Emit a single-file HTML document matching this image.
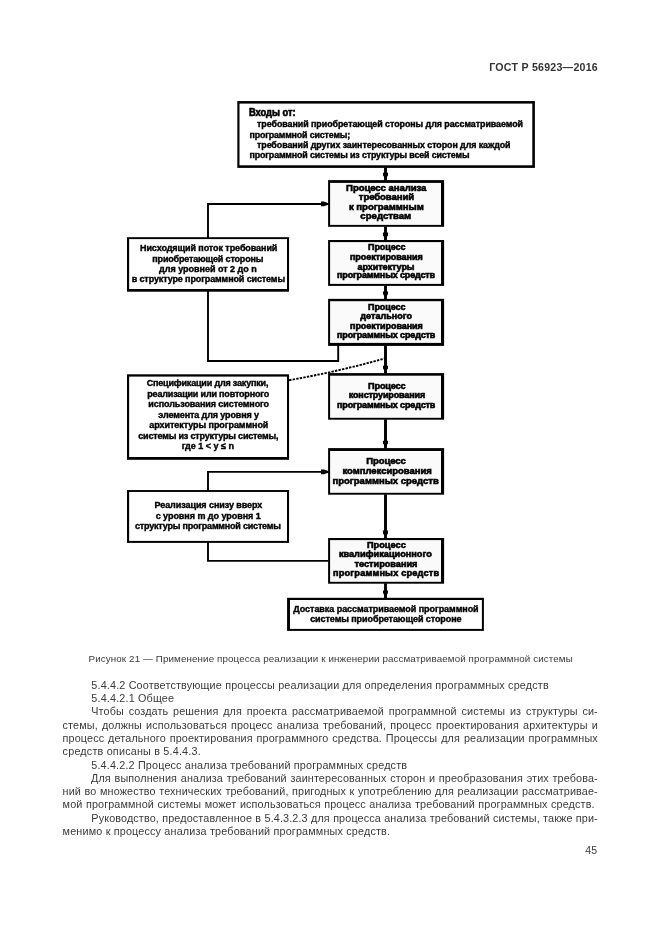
<!DOCTYPE html>
<html lang="ru">
<head>
<meta charset="utf-8">
<title>ГОСТ Р 56923—2016</title>
<style>
html,body{margin:0;padding:0;background:#fff;}
body{width:661px;height:935px;position:relative;overflow:hidden;font-family:"Liberation Sans",sans-serif;color:#2e2e2e;}
.hdr{position:absolute;font-weight:bold;line-height:12px;white-space:nowrap;color:#333;}
.dt{position:absolute;white-space:pre;font-weight:bold;color:#000;line-height:12px;-webkit-text-stroke:0.4px #000;filter:blur(0.35px);}
.hb{-webkit-text-stroke:0.6px #000;}
.hv{-webkit-text-stroke:0.65px #000 !important;}
.l{position:absolute;white-space:pre;line-height:13px;color:#3a3a3a;}
#txt{position:absolute;left:0;top:0;width:661px;height:935px;will-change:transform;opacity:0.999;}
svg{position:absolute;left:0;top:0;}
</style>
</head>
<body>

<svg width="661" height="935" viewBox="0 0 661 935">
<g stroke="#000" fill="none" stroke-width="2.9">
<line x1="385.5" y1="167.5" x2="385.5" y2="180.5"/>
<line x1="385.5" y1="226.5" x2="385.5" y2="240.4"/>
<line x1="385.5" y1="285.5" x2="385.5" y2="299.2"/>
<line x1="385.5" y1="345.5" x2="385.5" y2="373.5"/>
<line x1="385.5" y1="419.3" x2="385.5" y2="448.5"/>
<line x1="385.5" y1="494.3" x2="385.5" y2="538.4"/>
<line x1="385.5" y1="583.3" x2="385.5" y2="598.2"/>
</g>
<g stroke="#000" fill="none" stroke-width="1.9" stroke-linejoin="miter">
<polyline points="208,238 208,203.95 328.5,203.95"/>
<polyline points="208,291 208,360.95 338.2,360.95 338.2,345"/>
<polyline points="208,491 208,471.85 328.5,471.85"/>
<polyline points="208,542 208,560.85 328.5,560.85"/>
</g>
<path d="M289.07 380.2 Q338 371.6 385 358.4" fill="none" stroke="#000" stroke-width="1.9" stroke-dasharray="2.4,1.2"/>
<rect x="237.3" y="101.05" width="297.60" height="66.85" fill="#000"/>
<rect x="239.5" y="103.6" width="292.80" height="61.70" fill="#fff"/>
<rect x="328.1" y="180.1" width="116.00" height="46.70" fill="#000"/>
<rect x="330.1" y="182.9" width="110.90" height="42.00" fill="#fafafa"/>
<rect x="328.1" y="240.0" width="116.00" height="45.90" fill="#000"/>
<rect x="330.1" y="242.1" width="110.90" height="41.80" fill="#fafafa"/>
<rect x="328.1" y="298.85" width="116.00" height="47.05" fill="#000"/>
<rect x="330.1" y="301.2" width="110.90" height="41.70" fill="#fafafa"/>
<rect x="328.1" y="373.1" width="116.00" height="46.60" fill="#000"/>
<rect x="330.1" y="375.7" width="110.90" height="42.10" fill="#fafafa"/>
<rect x="328.1" y="448.1" width="116.00" height="46.60" fill="#000"/>
<rect x="330.1" y="451.0" width="110.90" height="41.80" fill="#fafafa"/>
<rect x="328.1" y="538.0" width="116.00" height="45.70" fill="#000"/>
<rect x="330.1" y="540.1" width="110.90" height="41.70" fill="#fafafa"/>
<rect x="287.07" y="597.8" width="196.83" height="33.10" fill="#000"/>
<rect x="289.98" y="600.0" width="191.92" height="28.90" fill="#fff"/>
<rect x="127.0" y="237.2" width="162.07" height="54.50" fill="#000"/>
<rect x="129.15" y="239.1" width="157.85" height="49.90" fill="#fff"/>
<rect x="127.0" y="374.3" width="162.07" height="85.50" fill="#000"/>
<rect x="129.15" y="376.6" width="157.85" height="80.40" fill="#fff"/>
<rect x="127.0" y="490.05" width="162.07" height="52.85" fill="#000"/>
<rect x="129.15" y="491.95" width="157.85" height="48.95" fill="#fff"/>
<g fill="#000">
<path d="M382.9 172.70 L388.1 172.70 L387.9 175.30 L386.8 177.30 L384.2 177.30 L383.1 175.30 Z"/>
<path d="M382.9 232.60 L388.1 232.60 L387.9 235.20 L386.8 237.20 L384.2 237.20 L383.1 235.20 Z"/>
<path d="M382.9 291.45 L388.1 291.45 L387.9 294.05 L386.8 296.05 L384.2 296.05 L383.1 294.05 Z"/>
<path d="M382.9 365.70 L388.1 365.70 L387.9 368.30 L386.8 370.30 L384.2 370.30 L383.1 368.30 Z"/>
<path d="M382.9 440.70 L388.1 440.70 L387.9 443.30 L386.8 445.30 L384.2 445.30 L383.1 443.30 Z"/>
<path d="M382.9 530.60 L388.1 530.60 L387.9 533.20 L386.8 535.20 L384.2 535.20 L383.1 533.20 Z"/>
<path d="M382.9 590.40 L388.1 590.40 L387.9 593.00 L386.8 595.00 L384.2 595.00 L383.1 593.00 Z"/>
<path d="M321.0 201.55 L324.0 201.55 L328.3 203.15 L328.3 204.75 L324.0 206.35 L321.0 206.35 Z"/>
<path d="M321.0 469.45 L324.0 469.45 L328.3 471.05 L328.3 472.65 L324.0 474.25 L321.0 474.25 Z"/>
</g>
</svg>


<div id="txt">
<div class="dt hv" style="left:249.30px;top:106.40px;font-size:10.6px;transform:scaleX(0.8793);transform-origin:0 0;">Входы от:</div>
<div class="dt" style="left:257.00px;top:118.16px;font-size:8.9px;letter-spacing:-0.041px;">требований приобретающей стороны для рассматриваемой</div>
<div class="dt" style="left:249.50px;top:129.06px;font-size:8.9px;letter-spacing:-0.159px;">программной системы;</div>
<div class="dt" style="left:257.00px;top:138.66px;font-size:8.9px;letter-spacing:-0.071px;">требований других заинтересованных сторон для каждой</div>
<div class="dt" style="left:249.50px;top:149.36px;font-size:8.9px;letter-spacing:-0.136px;">программной системы из структуры всей системы</div>
<div class="dt hb" style="left:346.10px;top:182.33px;font-size:9.6px;letter-spacing:-0.090px;">Процесс анализа</div>
<div class="dt hb" style="left:358.80px;top:191.38px;font-size:9.6px;letter-spacing:-0.107px;">требований</div>
<div class="dt hb" style="left:349.00px;top:201.03px;font-size:9.6px;letter-spacing:-0.054px;">к программным</div>
<div class="dt hb" style="left:360.30px;top:209.73px;font-size:9.6px;letter-spacing:0.024px;">средствам</div>
<div class="dt hb" style="left:368.00px;top:241.13px;font-size:9px;letter-spacing:-0.058px;">Процесс</div>
<div class="dt hb" style="left:350.00px;top:250.83px;font-size:9px;letter-spacing:-0.067px;">проектирования</div>
<div class="dt hb" style="left:357.50px;top:260.53px;font-size:9px;letter-spacing:-0.050px;">архитектуры</div>
<div class="dt hb" style="left:337.00px;top:269.33px;font-size:9px;letter-spacing:-0.141px;">программных средств</div>
<div class="dt hb" style="left:368.00px;top:301.03px;font-size:9px;letter-spacing:-0.058px;">Процесс</div>
<div class="dt hb" style="left:360.30px;top:310.23px;font-size:9px;letter-spacing:0.037px;">детального</div>
<div class="dt hb" style="left:350.00px;top:319.83px;font-size:9px;letter-spacing:-0.052px;">проектирования</div>
<div class="dt hb" style="left:337.00px;top:329.23px;font-size:9px;letter-spacing:-0.131px;">программных средств</div>
<div class="dt hb" style="left:368.00px;top:379.76px;font-size:9.2px;letter-spacing:-0.170px;">Процесс</div>
<div class="dt hb" style="left:348.75px;top:389.38px;font-size:9px;letter-spacing:-0.136px;">конструирования</div>
<div class="dt hb" style="left:337.00px;top:399.28px;font-size:9px;letter-spacing:-0.126px;">программных средств</div>
<div class="dt hb" style="left:366.25px;top:454.61px;font-size:9.5px;letter-spacing:-0.071px;">Процесс</div>
<div class="dt hb" style="left:342.50px;top:465.11px;font-size:9.5px;letter-spacing:-0.031px;">комплексирования</div>
<div class="dt hb" style="left:332.50px;top:475.11px;font-size:9.5px;letter-spacing:-0.002px;">программных средств</div>
<div class="dt hb" style="left:367.00px;top:539.21px;font-size:9.2px;letter-spacing:0.009px;">Процесс</div>
<div class="dt hb" style="left:338.90px;top:548.46px;font-size:9.2px;letter-spacing:-0.010px;">квалификационного</div>
<div class="dt hb" style="left:354.60px;top:557.96px;font-size:9.2px;letter-spacing:-0.031px;">тестирования</div>
<div class="dt hb" style="left:333.00px;top:566.96px;font-size:9.2px;letter-spacing:0.183px;">программных средств</div>
<div class="dt" style="left:293.30px;top:602.83px;font-size:9px;letter-spacing:-0.053px;">Доставка рассматриваемой программной</div>
<div class="dt" style="left:310.20px;top:612.73px;font-size:9px;letter-spacing:-0.078px;">системы приобретающей стороне</div>
<div class="dt" style="left:140.00px;top:241.73px;font-size:9px;letter-spacing:-0.081px;">Нисходящий поток требований</div>
<div class="dt" style="left:152.30px;top:252.73px;font-size:9px;letter-spacing:-0.170px;">приобретающей стороны</div>
<div class="dt" style="left:159.00px;top:262.73px;font-size:9px;letter-spacing:-0.013px;">для уровней от 2 до n</div>
<div class="dt" style="left:131.70px;top:273.03px;font-size:9px;letter-spacing:-0.120px;">в структуре программной системы</div>
<div class="dt" style="left:146.70px;top:377.03px;font-size:9px;letter-spacing:-0.178px;">Спецификации для закупки,</div>
<div class="dt" style="left:147.30px;top:387.73px;font-size:9px;letter-spacing:-0.180px;">реализации или повторного</div>
<div class="dt" style="left:148.30px;top:397.73px;font-size:9px;letter-spacing:-0.094px;">использования системного</div>
<div class="dt" style="left:158.30px;top:408.73px;font-size:9px;letter-spacing:-0.112px;">элемента для уровня y</div>
<div class="dt" style="left:149.30px;top:419.33px;font-size:9px;letter-spacing:-0.066px;">архитектуры программной</div>
<div class="dt" style="left:138.30px;top:430.03px;font-size:9px;letter-spacing:-0.186px;">системы из структуры системы,</div>
<div class="dt" style="left:181.70px;top:440.33px;font-size:9px;letter-spacing:-0.003px;">где 1 &lt; y ≤ n</div>
<div class="dt" style="left:154.50px;top:498.83px;font-size:9px;letter-spacing:-0.068px;">Реализация снизу вверх</div>
<div class="dt" style="left:155.70px;top:509.93px;font-size:9px;letter-spacing:-0.043px;">с уровня m до уровня 1</div>
<div class="dt" style="left:135.00px;top:520.03px;font-size:9px;letter-spacing:-0.205px;">структуры программной системы</div>
<div class="l" style="left:88.50px;top:651.96px;font-size:9.8px;letter-spacing:0.112px;">Рисунок 21 — Применение процесса реализации к инженерии рассматриваемой программной системы</div>
<div class="l" style="left:91.30px;top:679.03px;font-size:10.8px;letter-spacing:0.166px;">5.4.4.2 Соответствующие процессы реализации для определения программных средств</div>
<div class="l" style="left:91.30px;top:692.13px;font-size:10.8px;letter-spacing:0.165px;">5.4.4.2.1 Общее</div>
<div class="l" style="left:91.30px;top:705.23px;font-size:10.8px;letter-spacing:0.130px;word-spacing:1.599px;">Чтобы создать решения для проекта рассматриваемой программной системы из структуры си-</div>
<div class="l" style="left:62.60px;top:718.93px;font-size:10.8px;letter-spacing:0.130px;word-spacing:0.974px;">стемы, должны использоваться процесс анализа требований, процесс проектирования архитектуры и</div>
<div class="l" style="left:62.60px;top:731.83px;font-size:10.8px;letter-spacing:0.130px;word-spacing:0.764px;">процесс детального проектирования программного средства. Процессы для реализации программных</div>
<div class="l" style="left:62.60px;top:745.13px;font-size:10.8px;letter-spacing:0.191px;">средств описаны в 5.4.4.3.</div>
<div class="l" style="left:91.30px;top:758.53px;font-size:10.8px;letter-spacing:0.160px;">5.4.4.2.2 Процесс анализа требований программных средств</div>
<div class="l" style="left:91.00px;top:771.53px;font-size:10.8px;letter-spacing:0.130px;word-spacing:0.604px;">Для выполнения анализа требований заинтересованных сторон и преобразования этих требова-</div>
<div class="l" style="left:62.60px;top:784.83px;font-size:10.8px;letter-spacing:0.130px;word-spacing:0.445px;">ний во множество технических требований, пригодных к употреблению для реализации рассматривае-</div>
<div class="l" style="left:62.60px;top:798.43px;font-size:10.8px;letter-spacing:0.130px;word-spacing:0.338px;">мой программной системы может использоваться процесс анализа требований программных средств.</div>
<div class="l" style="left:91.30px;top:811.73px;font-size:10.8px;letter-spacing:0.130px;word-spacing:0.165px;">Руководство, предоставленное в 5.4.3.2.3 для процесса анализа требований системы, также при-</div>
<div class="l" style="left:62.60px;top:824.93px;font-size:10.8px;letter-spacing:0.169px;">менимо к процессу анализа требований программных средств.</div>
<div class="l" style="left:585.30px;top:843.63px;font-size:10.5px;letter-spacing:0.013px;">45</div>
<div class="hdr" style="left:489.25px;top:61.20px;font-size:10.6px;letter-spacing:0.247px;">ГОСТ Р 56923—2016</div>
</div>
</body>
</html>
